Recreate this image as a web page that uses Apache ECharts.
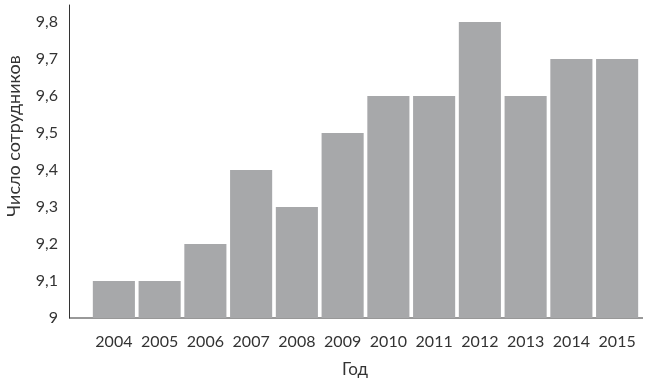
<!DOCTYPE html>
<html><head><meta charset="utf-8">
<script src="https://cdn.jsdelivr.net/npm/echarts@6/dist/echarts.min.js"></script>
<style>html,body{margin:0;padding:0;background:#fff}#c{width:647px;height:385px}</style>
</head><body><div id="c"></div>
<script>
const years = ['2004','2005','2006','2007','2008','2009','2010','2011','2012','2013','2014','2015'];
const employees = [9.1, 9.1, 9.2, 9.4, 9.3, 9.5, 9.6, 9.6, 9.8, 9.6, 9.7, 9.7];
const xTitle = 'Год';
const yTitle = 'Число сотрудников';

const chart = echarts.init(document.getElementById('c'), null, {renderer:'canvas'});
const font = 'Lato, "Open Sans", sans-serif';
chart.setOption({
  animation: false,
  grid: {left: 91, right: 7, top: 5, bottom: 67},
  xAxis: {
    type: 'category', data: years,
    axisLine: {show: false}, axisTick: {show: false},
    axisLabel: {color: '#333', fontSize: 16, fontFamily: font, margin: 16, interval: 0}
  },
  yAxis: {
    type: 'value', min: 9, max: 9.846, interval: 0.1, offset: 22,
    splitLine: {show: false}, axisTick: {show: false},
    axisLine: {show: true, lineStyle: {color: '#333', width: 1}},
    axisLabel: {color: '#333', fontSize: 16, fontFamily: font, margin: 11,
      formatter: v => { const r = Math.round(v*10)/10; if (Math.abs(r - v) > 1e-6) return ''; return String(r).replace('.', ','); }}
  },
  graphic: [
    {type: 'line', shape: {x1: 69, y1: 318, x2: 643, y2: 318}, style: {stroke: '#333', lineWidth: 1}},
    {type: 'text', x: 14, y: 136, rotation: Math.PI / 2,
      style: {text: yTitle, fill: '#333', fontSize: 18, fontFamily: font, align: 'center', verticalAlign: 'middle'}},
    {type: 'text', x: 355, y: 370,
      style: {text: xTitle, fill: '#333', fontSize: 17, fontFamily: font, align: 'center', verticalAlign: 'middle'}}
  ],
  series: [{
    type: 'bar', data: employees, barCategoryGap: '8%',
    itemStyle: {color: '#a7a8aa'}
  }]
});
</script></body></html>
